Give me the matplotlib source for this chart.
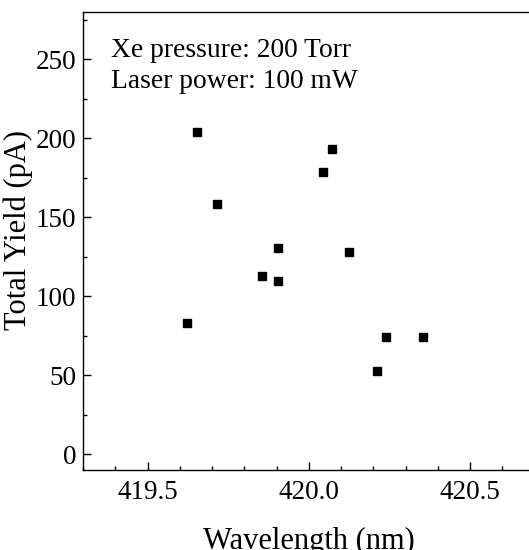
import matplotlib
matplotlib.use("Agg")
import matplotlib.pyplot as plt
from matplotlib.ticker import MultipleLocator

# wavelength (nm) vs total yield (pA)
wavelength = [419.621, 419.652, 419.715, 419.856, 419.905, 419.905,
              420.045, 420.073, 420.124, 420.213, 420.238, 420.355]
total_yield = [82.8, 204.1, 158.6, 112.6, 130.4, 109.5,
               178.9, 193.3, 127.9, 52.9, 73.9, 73.9]

plt.rcParams['font.family'] = ['Liberation Serif', 'DejaVu Serif']

fig = plt.figure(figsize=(5.29, 5.5), dpi=100)
ax = fig.add_axes([0.157, 0.1455, 0.8535, 0.8327])

ax.plot(wavelength, total_yield, 's', color='black', markersize=5.5, linestyle='none')

ax.set_xlim(419.3, 420.7)
ax.set_ylim(-10, 280)
ax.xaxis.set_major_locator(MultipleLocator(0.5))
ax.xaxis.set_minor_locator(MultipleLocator(0.1))
ax.yaxis.set_major_locator(MultipleLocator(50))
ax.yaxis.set_minor_locator(MultipleLocator(25))
ax.xaxis.set_major_formatter(plt.FormatStrFormatter('%.1f'))

ax.tick_params(which='major', direction='in', length=5.5, width=1, labelsize=19.5)
ax.tick_params(axis='y', which='major', pad=5)
ax.tick_params(axis='x', which='major', pad=7)
ax.tick_params(which='minor', direction='in', length=3, width=1)
ax.tick_params(top=False, right=False, which='both')
for s in ax.spines.values():
    s.set_linewidth(1)

ax.set_xlabel('Wavelength (nm)', fontsize=22, labelpad=16)
ax.set_ylabel('Total Yield (pA)', fontsize=22)
ax.yaxis.set_label_coords(-0.111, 0.524)

ax.text(0.062, 0.943, 'Xe pressure: 200 Torr\nLaser power: 100 mW',
        transform=ax.transAxes, fontsize=19.8, va='top', ha='left', linespacing=1.31)

fig.savefig('out.png', dpi=100)
